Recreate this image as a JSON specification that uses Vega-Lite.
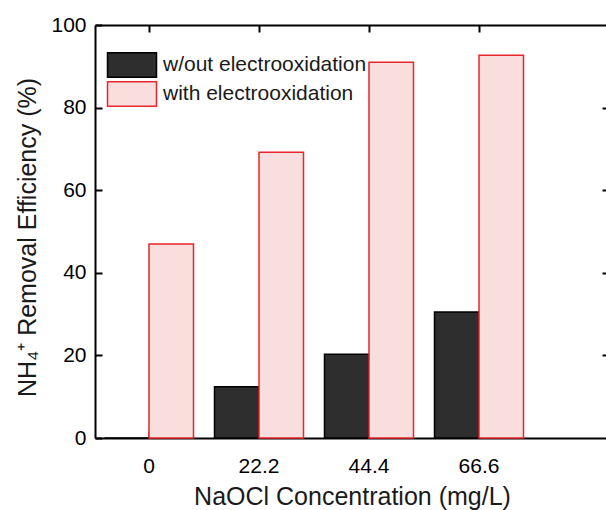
{
  "$schema": "https://vega.github.io/schema/vega-lite/v6.json",
  "width": 514,
  "height": 413,
  "autosize": {"type": "none"},
  "padding": {"left": 95, "top": 25, "right": 0, "bottom": 72},
  "config": {
    "font": "Liberation Sans",
    "view": {"stroke": null},
    "axis": {
      "domainColor": "#000000",
      "tickColor": "#000000",
      "labelColor": "#000000",
      "titleColor": "#1a1a1a",
      "grid": false,
      "domainWidth": 2,
      "tickWidth": 2,
      "labelFont": "Liberation Sans",
      "titleFont": "Liberation Sans",
      "titleFontWeight": "normal"
    }
  },
  "data": {
    "values": [
      {"conc": "0", "series": "w/out electrooxidation", "value": 0},
      {"conc": "0", "series": "with electrooxidation", "value": 47.0},
      {"conc": "22.2", "series": "w/out electrooxidation", "value": 12.4},
      {"conc": "22.2", "series": "with electrooxidation", "value": 69.2},
      {"conc": "44.4", "series": "w/out electrooxidation", "value": 20.3},
      {"conc": "44.4", "series": "with electrooxidation", "value": 91.0},
      {"conc": "66.6", "series": "w/out electrooxidation", "value": 30.5},
      {"conc": "66.6", "series": "with electrooxidation", "value": 92.7}
    ]
  },
  "layer": [
    {
      "mark": {"type": "bar", "strokeWidth": 1.5},
      "encoding": {
        "x": {
          "field": "conc",
          "type": "ordinal",
          "sort": null,
          "scale": {"paddingInner": 0.1909, "paddingOuter": 0.4318, "align": 0.1},
          "axis": {
            "orient": "bottom",
            "title": "NaOCl Concentration (mg/L)",
            "labelAngle": 0,
            "labelFontSize": 21,
            "titleFontSize": 25,
            "tickSize": -7,
            "labelPadding": 24,
            "titlePadding": 8
          }
        },
        "xOffset": {
          "field": "series",
          "type": "nominal",
          "sort": ["w/out electrooxidation", "with electrooxidation"],
          "scale": {"paddingInner": 0, "paddingOuter": 0}
        },
        "y": {
          "field": "value",
          "type": "quantitative",
          "scale": {"domain": [0, 100], "nice": false},
          "axis": {
            "title": "NH₄⁺ Removal Efficiency (%)",
            "values": [0, 20, 40, 60, 80, 100],
            "labelFontSize": 21,
            "titleFontSize": 25,
            "titleY": 212,
            "tickSize": -7,
            "labelPadding": 16,
            "titlePadding": 10
          }
        },
        "fill": {
          "field": "series",
          "type": "nominal",
          "scale": {
            "domain": ["w/out electrooxidation", "with electrooxidation"],
            "range": ["#2e2e2e", "#f9dede"]
          },
          "legend": {
            "orient": "none",
            "legendX": 24,
            "legendY": 27,
            "title": null,
            "labelFontSize": 21,
            "labelLimit": 0,
            "labelColor": "#1a1a1a",
            "symbolType": "M-2,-1H2V1H-2Z",
            "symbolSize": 600,
            "symbolStrokeWidth": 1.5,
            "symbolOpacity": 1,
            "labelOffset": 18,
            "rowPadding": -9
          }
        },
        "stroke": {
          "field": "series",
          "type": "nominal",
          "scale": {
            "domain": ["w/out electrooxidation", "with electrooxidation"],
            "range": ["#000000", "#e8262d"]
          },
          "legend": {
            "orient": "none",
            "legendX": 24,
            "legendY": 27,
            "title": null,
            "labelFontSize": 21,
            "labelLimit": 0,
            "labelColor": "#1a1a1a",
            "symbolType": "M-2,-1H2V1H-2Z",
            "symbolSize": 600,
            "symbolStrokeWidth": 1.5,
            "symbolOpacity": 1,
            "labelOffset": 18,
            "rowPadding": -9
          }
        }
      }
    },
    {
      "mark": {"type": "bar", "opacity": 0},
      "encoding": {
        "x": {
          "field": "conc",
          "type": "ordinal",
          "sort": null,
          "axis": {"orient": "top", "labels": false, "title": null, "tickSize": -7}
        },
        "y": {
          "field": "value",
          "type": "quantitative",
          "axis": {"orient": "right", "labels": false, "title": null, "tickSize": -7, "values": [20, 40, 60, 80]}
        }
      }
    }
  ],
  "resolve": {"axis": {"x": "independent", "y": "independent"}}
}
